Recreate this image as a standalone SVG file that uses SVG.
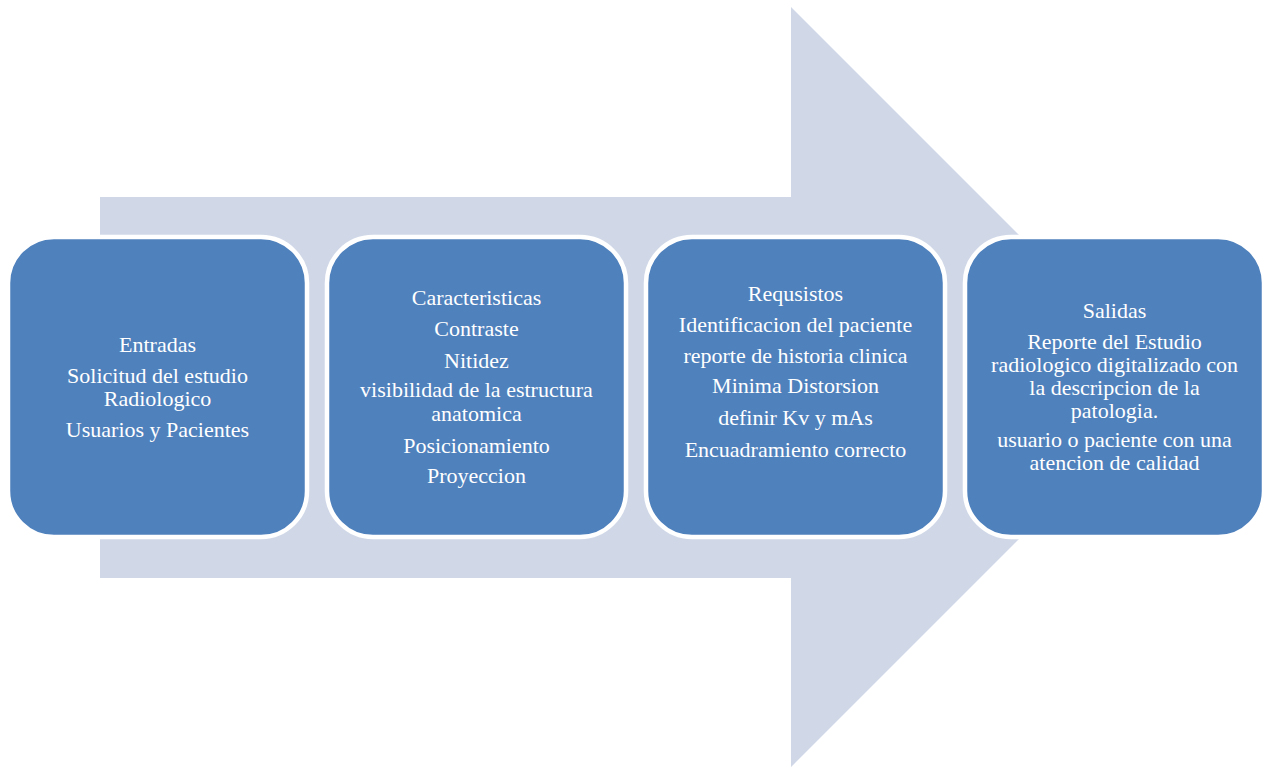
<svg xmlns="http://www.w3.org/2000/svg" width="1271" height="767" viewBox="0 0 1271 767">
<style>
.box{fill:#4f81bd;stroke:#ffffff;stroke-width:4.5}
.t{font-family:"Liberation Serif","Times New Roman",serif;font-size:22px;fill:#ffffff;text-anchor:middle}
</style>
<rect width="1271" height="767" fill="#ffffff"/>
<g id="arrow">
<polygon points="100,197 791,197 791,7 1171,387 791,767 791,578 100,578" fill="#d0d8e8"/>
</g>
<g id="connectors"></g>
<g id="entradas">
<rect class="box" x="8" y="237" width="299" height="300" rx="46" ry="46"/>
<text class="t" x="157.5" y="352">Entradas</text>
<text class="t" x="157.5" y="383">Solicitud del estudio</text>
<text class="t" x="157.5" y="406">Radiologico</text>
<text class="t" x="157.5" y="437">Usuarios y Pacientes</text>
</g>
<g id="caracteristicas">
<rect class="box" x="327" y="237" width="299" height="300" rx="46" ry="46"/>
<text class="t" x="476.5" y="305">Caracteristicas</text>
<text class="t" x="476.5" y="336">Contraste</text>
<text class="t" x="476.5" y="368">Nitidez</text>
<text class="t" x="476.5" y="397">visibilidad de la estructura</text>
<text class="t" x="476.5" y="421">anatomica</text>
<text class="t" x="476.5" y="453">Posicionamiento</text>
<text class="t" x="476.5" y="483">Proyeccion</text>
</g>
<g id="requisitos">
<rect class="box" x="646" y="237" width="299" height="300" rx="46" ry="46"/>
<text class="t" x="795.5" y="301">Requsistos</text>
<text class="t" x="795.5" y="332">Identificacion del paciente</text>
<text class="t" x="795.5" y="363">reporte de historia clinica</text>
<text class="t" x="795.5" y="393">Minima Distorsion</text>
<text class="t" x="795.5" y="425">definir Kv y mAs</text>
<text class="t" x="795.5" y="457">Encuadramiento correcto</text>
</g>
<g id="salidas">
<rect class="box" x="965" y="237" width="299" height="300" rx="46" ry="46"/>
<text class="t" x="1114.5" y="318">Salidas</text>
<text class="t" x="1114.5" y="349">Reporte del Estudio</text>
<text class="t" x="1114.5" y="372">radiologico digitalizado con</text>
<text class="t" x="1114.5" y="395">la descripcion de la</text>
<text class="t" x="1114.5" y="418">patologia.</text>
<text class="t" x="1114.5" y="447">usuario o paciente con una</text>
<text class="t" x="1114.5" y="470">atencion de calidad</text>
</g>
</svg>
